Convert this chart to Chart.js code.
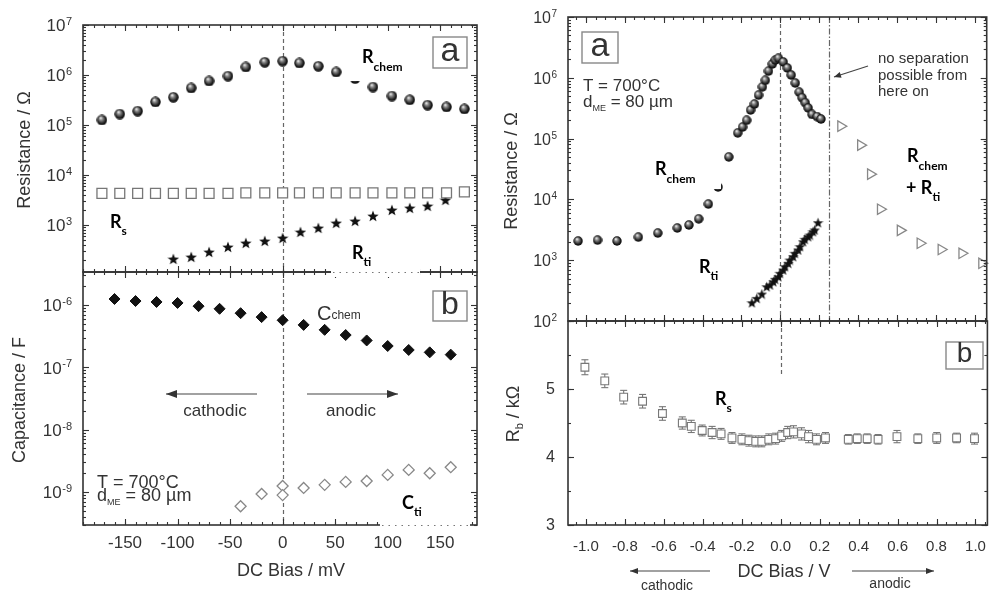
<!DOCTYPE html>
<html>
<head>
<meta charset="utf-8">
<script src="https://cdn.jsdelivr.net/npm/chart.js@4.4.1/dist/chart.umd.min.js"></script>
<style>
  html, body { margin: 0; background: #fff; }
  canvas { position: absolute; left: 0; top: 0; }
</style>
</head>
<body>
<canvas id="resMv" width="994" height="593"></canvas>
<canvas id="capMv" width="994" height="593"></canvas>
<canvas id="resV" width="994" height="593"></canvas>
<canvas id="rbV" width="994" height="593"></canvas>
<script>
// ---- left figure, DC bias in mV ----
const biasA = [-172, -155, -138, -121, -104, -87, -70, -52, -35, -17, 0, 16, 34, 51, 69, 86, 104, 121, 138, 156, 173];
const rChemA = [1.26e5, 1.66e5, 1.9e5, 2.9e5, 3.6e5, 5.5e5, 7.6e5, 9.5e5, 1.45e6, 1.8e6, 1.9e6, 1.74e6, 1.5e6, 1.15e6, 8.5e5, 5.75e5, 3.8e5, 3.2e5, 2.5e5, 2.3e5, 2.1e5];
const rSA = [4.3e3, 4.3e3, 4.3e3, 4.3e3, 4.3e3, 4.3e3, 4.3e3, 4.3e3, 4.4e3, 4.4e3, 4.4e3, 4.4e3, 4.4e3, 4.4e3, 4.4e3, 4.4e3, 4.4e3, 4.4e3, 4.4e3, 4.4e3, 4.6e3];
const biasTiA = [-104, -87, -70, -52, -35, -17, 0, 17, 34, 51, 69, 86, 104, 121, 138, 155];
const rTiA = [209, 229, 288, 363, 437, 479, 550, 724, 871, 1096, 1202, 1514, 1995, 2188, 2399, 3162];

const biasC = [-160, -140, -120, -100, -80, -60, -40, -20, 0, 20, 40, 60, 80, 100, 120, 140, 160];
const cChem = [1.25e-6, 1.16e-6, 1.12e-6, 1.08e-6, 9.6e-7, 8.7e-7, 7.4e-7, 6.4e-7, 5.7e-7, 4.8e-7, 4.0e-7, 3.3e-7, 2.7e-7, 2.2e-7, 1.9e-7, 1.74e-7, 1.6e-7];
const biasCti = [-40, -20, 0, 0, 20, 40, 60, 80, 100, 120, 140, 160];
const cTi = [5.9e-10, 9.3e-10, 1.25e-9, 8.9e-10, 1.16e-9, 1.3e-9, 1.45e-9, 1.5e-9, 1.88e-9, 2.26e-9, 2.0e-9, 2.5e-9];

// ---- right figure, DC bias in V ----
const biasB = [-1.04, -0.94, -0.84, -0.73, -0.63, -0.53, -0.47, -0.42, -0.37, -0.32, -0.265, -0.219, -0.194, -0.173, -0.153, -0.133, -0.112, -0.092, -0.077, -0.061, -0.041, -0.026, -0.010, 0.015, 0.036, 0.056, 0.077, 0.097, 0.112, 0.128, 0.143, 0.163, 0.189, 0.209];
const rChemB = [2070, 2140, 2070, 2400, 2800, 3390, 3800, 4790, 8400, 1.6e4, 5.0e4, 1.24e5, 1.55e5, 2.0e5, 2.96e5, 3.7e5, 5.2e5, 7.1e5, 9.1e5, 1.29e6, 1.69e6, 1.96e6, 2.1e6, 1.82e6, 1.45e6, 1.11e6, 8.2e5, 5.8e5, 4.7e5, 3.9e5, 3.2e5, 2.5e5, 2.3e5, 2.1e5];
const biasTiB = [-0.146, -0.121, -0.095, -0.070, -0.053, -0.036, -0.027, -0.010, -0.002, 0.015, 0.024, 0.041, 0.049, 0.066, 0.075, 0.092, 0.101, 0.117, 0.126, 0.143, 0.152, 0.168, 0.177, 0.194];
const rTiB = [200, 236, 278, 366, 391, 443, 485, 535, 609, 690, 782, 889, 1007, 1143, 1300, 1473, 1669, 2015, 2207, 2434, 2593, 2940, 3140, 4140];
const biasSum = [0.311, 0.413, 0.464, 0.515, 0.617, 0.719, 0.827, 0.934, 1.036];
const rSum = [1.6e5, 7.8e4, 2.6e4, 6.9e3, 3.1e3, 1.9e3, 1.5e3, 1.3e3, 890];

const biasRb = [-1.005, -0.903, -0.806, -0.709, -0.607, -0.505, -0.459, -0.403, -0.352, -0.306, -0.250, -0.199, -0.163, -0.128, -0.097, -0.061, -0.026, 0.005, 0.036, 0.066, 0.107, 0.143, 0.184, 0.230, 0.347, 0.393, 0.444, 0.500, 0.597, 0.704, 0.801, 0.903, 0.995];
const rb = [5.32, 5.12, 4.88, 4.82, 4.64, 4.50, 4.45, 4.39, 4.36, 4.34, 4.28, 4.26, 4.24, 4.23, 4.23, 4.26, 4.27, 4.31, 4.36, 4.37, 4.34, 4.30, 4.26, 4.28, 4.26, 4.27, 4.27, 4.26, 4.30, 4.27, 4.28, 4.28, 4.27];
const rbErr = [0.11, 0.10, 0.10, 0.10, 0.10, 0.09, 0.09, 0.08, 0.09, 0.08, 0.08, 0.08, 0.08, 0.08, 0.08, 0.08, 0.08, 0.08, 0.09, 0.09, 0.09, 0.09, 0.08, 0.08, 0.07, 0.07, 0.07, 0.07, 0.09, 0.07, 0.08, 0.07, 0.08];

// tick labels
const mvTicks = [-150, -100, -50, 0, 50, 100, 150];
const vTicks = [-1.0, -0.8, -0.6, -0.4, -0.2, 0.0, 0.2, 0.4, 0.6, 0.8, 1.0];
const resExpA = [3, 4, 5, 6, 7];
const capExp = [-9, -8, -7, -6];
const resExpB = [2, 3, 4, 5, 6, 7];
const rbTicks = [3, 4, 5];

const W = 994, H = 593;
const TXT = '#333';
const SANS = '"Liberation Sans", Arial, sans-serif';
const BOLD = 'bold 18px Lato, "Open Sans", sans-serif';
const BOLD_SUB = 'bold 12px Lato, "Open Sans", sans-serif';

const p10 = e => Math.pow(10, e);

function logMinors(lo, hi) {
  const out = [];
  for (let e = Math.floor(Math.log10(lo)); e <= Math.ceil(Math.log10(hi)); e++) {
    for (let m = 2; m <= 9; m++) {
      const v = m * p10(e);
      if (v > lo && v < hi) out.push(v);
    }
  }
  return out;
}

function linMinors(lo, hi, step) {
  const out = [];
  for (let k = Math.ceil(lo / step); k <= Math.floor(hi / step); k++) out.push(k * step);
  return out;
}

function line(ctx, x1, y1, x2, y2) {
  ctx.beginPath();
  ctx.moveTo(x1, y1);
  ctx.lineTo(x2, y2);
  ctx.stroke();
}

function arrow(ctx, x1, y1, x2, y2, len, half) {
  line(ctx, x1, y1, x2, y2);
  const a = Math.atan2(y2 - y1, x2 - x1);
  ctx.beginPath();
  ctx.moveTo(x2, y2);
  ctx.lineTo(x2 - len * Math.cos(a) + half * Math.sin(a), y2 - len * Math.sin(a) - half * Math.cos(a));
  ctx.lineTo(x2 - len * Math.cos(a) - half * Math.sin(a), y2 - len * Math.sin(a) + half * Math.cos(a));
  ctx.closePath();
  ctx.fill();
}

// text made of pieces: [text, font, dy]
function rich(ctx, x, y, parts, align) {
  let w = 0;
  parts.forEach(p => { ctx.font = p[1]; w += ctx.measureText(p[0]).width; });
  let cx = align === 'center' ? x - w / 2 : x;
  ctx.textAlign = 'left';
  ctx.textBaseline = 'alphabetic';
  parts.forEach(p => {
    ctx.font = p[1];
    ctx.fillText(p[0], cx, y + (p[2] || 0));
    cx += ctx.measureText(p[0]).width;
  });
}

function sphere(d) {
  const c = document.createElement('canvas');
  c.width = c.height = d;
  const g = c.getContext('2d');
  const r = d / 2;
  const grad = g.createRadialGradient(r * 0.75, r * 0.6, r * 0.05, r, r, r);
  grad.addColorStop(0, '#f2f2f2');
  grad.addColorStop(0.3, '#8a8a8a');
  grad.addColorStop(0.75, '#1c1c1c');
  grad.addColorStop(1, '#050505');
  g.fillStyle = grad;
  g.beginPath();
  g.arc(r, r, r - 0.3, 0, Math.PI * 2);
  g.fill();
  return c;
}

function star(d) {
  const c = document.createElement('canvas');
  c.width = c.height = d;
  const g = c.getContext('2d');
  const R = d / 2, r = R * 0.42;
  g.fillStyle = '#111';
  g.beginPath();
  for (let i = 0; i < 10; i++) {
    const a = -Math.PI / 2 + i * Math.PI / 5;
    const rr = i % 2 ? r : R;
    g.lineTo(R + rr * Math.cos(a), R + 0.5 + rr * Math.sin(a));
  }
  g.closePath();
  g.fill();
  return c;
}

const pts = (xs, ys) => xs.map((v, i) => ({ x: v, y: ys[i] }));

// axis decoration per panel, kept out of chart options so nothing gets resolved as scriptable
const axisCfg = {
  resMv: {
    xMajor: mvTicks, xMinor: linMinors(-190, 185, 10),
    yMajor: resExpA.map(p10), yMinor: logMinors(115, 1e7),
    yPow: resExpA, big: '17px ' + SANS, small: '11px ' + SANS,
    guides: [{ at: 0, dash: [4, 3] }]
  },
  capMv: {
    xMajor: mvTicks, xMinor: linMinors(-190, 185, 10),
    yMajor: capExp.map(p10), yMinor: logMinors(2.95e-10, 3.39e-6),
    yPow: capExp, big: '17px ' + SANS, small: '11px ' + SANS,
    xLabels: mvTicks, xFont: '17px ' + SANS, xGap: 18, xFixed: 0,
    guides: [{ at: 0, dash: [4, 3] }]
  },
  resV: {
    xMajor: vTicks, xMinor: linMinors(-1.09, 1.06, 0.05),
    yMajor: resExpB.map(p10), yMinor: logMinors(100, 1e7),
    yPow: resExpB, big: '16px ' + SANS, small: '10px ' + SANS,
    guides: [{ at: 0, dash: [4, 3] }, { at: 0.25, dash: [6, 2, 1.5, 2] }]
  },
  rbV: {
    xMajor: vTicks, xMinor: linMinors(-1.09, 1.06, 0.05),
    yMajor: [3, 4, 5, 6], yMinor: linMinors(3, 6, 0.5),
    yNum: rbTicks, big: '16px ' + SANS,
    xLabels: vTicks, xFont: '15px ' + SANS, xGap: 22, xFixed: 1,
    guides: [{ at: 0, dash: [4, 3], until: 5.22 }],
    errors: { xs: biasRb, ys: rb, err: rbErr }
  }
};

const axesPlugin = {
  id: 'axesDeco',
  beforeDatasetsDraw(chart) {
    const o = axisCfg[chart.canvas.id];
    const { ctx, chartArea: a, scales: { x, y } } = chart;
    ctx.save();
    ctx.strokeStyle = '#666';
    ctx.lineWidth = 1.2;
    o.guides.forEach(g => {
      const px = Math.round(x.getPixelForValue(g.at)) + 0.5;
      const y2 = g.until !== undefined ? y.getPixelForValue(g.until) : a.bottom;
      ctx.setLineDash(g.dash);
      line(ctx, px, a.top, px, y2);
    });
    ctx.setLineDash([]);
    if (o.errors) {
      const e = o.errors;
      ctx.strokeStyle = '#777';
      ctx.lineWidth = 1.1;
      e.xs.forEach((v, i) => {
        const px = x.getPixelForValue(v);
        const top = y.getPixelForValue(e.ys[i] + e.err[i]);
        const bot = y.getPixelForValue(e.ys[i] - e.err[i]);
        line(ctx, px, top, px, bot);
        line(ctx, px - 3.5, top, px + 3.5, top);
        line(ctx, px - 3.5, bot, px + 3.5, bot);
      });
    }
    ctx.restore();
  },
  afterDatasetsDraw(chart) {
    const o = axisCfg[chart.canvas.id];
    const { ctx, chartArea: a, scales: { x, y } } = chart;
    ctx.save();
    ctx.strokeStyle = '#333';
    ctx.lineWidth = 1.1;
    const xt = (list, len) => list.forEach(v => {
      const p = Math.round(x.getPixelForValue(v)) + 0.5;
      line(ctx, p, a.bottom, p, a.bottom - len);
      line(ctx, p, a.top, p, a.top + len);
    });
    const yt = (list, len) => list.forEach(v => {
      const p = Math.round(y.getPixelForValue(v)) + 0.5;
      line(ctx, a.left, p, a.left + len, p);
      line(ctx, a.right, p, a.right - len, p);
    });
    xt(o.xMinor, 3); xt(o.xMajor, 6);
    yt(o.yMinor, 3); yt(o.yMajor, 6);
    ctx.lineWidth = 1.6;
    ctx.strokeRect(a.left, a.top, a.right - a.left, a.bottom - a.top);

    ctx.fillStyle = TXT;
    if (o.xLabels) {
      ctx.font = o.xFont;
      ctx.textAlign = 'center';
      ctx.textBaseline = 'middle';
      o.xLabels.forEach(v => ctx.fillText(v.toFixed(o.xFixed), x.getPixelForValue(v), a.bottom + o.xGap));
    }
    if (o.yPow) {
      o.yPow.forEach(e => {
        const yc = y.getPixelForValue(p10(e));
        const sup = String(e);
        ctx.font = o.small;
        const sw = ctx.measureText(sup).width;
        const xr = a.left - 11;
        ctx.font = o.big;
        ctx.textAlign = 'right';
        ctx.textBaseline = 'middle';
        ctx.fillText('10', xr - sw - 0.5, yc + 1.5);
        ctx.font = o.small;
        ctx.textAlign = 'left';
        ctx.textBaseline = 'alphabetic';
        ctx.fillText(sup, xr - sw, yc);
      });
    }
    if (o.yNum) {
      ctx.font = o.big;
      ctx.textAlign = 'right';
      ctx.textBaseline = 'middle';
      o.yNum.forEach(v => ctx.fillText(String(v), a.left - 13, y.getPixelForValue(v) + 1));
    }
    ctx.restore();
  }
};

// texts, boxes and arrows that sit over every panel (drawn by the top-most canvas)
const notesPlugin = {
  id: 'notes',
  afterDraw(chart) {
    const ctx = chart.ctx;
    ctx.save();
    // white label backgrounds that hide parts of the plot, as in the figure
    ctx.fillStyle = '#fff';
    [[344, 40, 68, 41], [331, 262, 89, 15], [380, 497, 90, 34], [645, 146, 76, 43]].forEach(r => ctx.fillRect(...r));
    ctx.strokeStyle = '#777';
    ctx.lineWidth = 1.2;
    ctx.setLineDash([1.5, 5]);
    line(ctx, 333, 272.5, 420, 272.5);
    line(ctx, 382, 525.5, 470, 525.5);
    ctx.setLineDash([]);

    // panel letters
    ctx.strokeStyle = '#888';
    ctx.lineWidth = 1.4;
    ctx.fillStyle = TXT;
    ctx.textAlign = 'center';
    ctx.textBaseline = 'middle';
    [[433, 37, 34, 31, 'a', 34], [433, 291, 34, 30, 'b', 32], [582, 32, 36, 31, 'a', 34], [946, 342, 37, 27, 'b', 28]].forEach(b => {
      ctx.strokeRect(b[0], b[1], b[2], b[3]);
      ctx.font = b[5] + 'px ' + SANS;
      ctx.fillText(b[4], b[0] + b[2] / 2, b[1] + b[3] / 2 - 1);
    });

    // bold curve labels
    ctx.fillStyle = '#000';
    rich(ctx, 362, 63, [['R', BOLD], ['chem', BOLD_SUB, 8]]);
    rich(ctx, 110, 228, [['R', BOLD], ['s', BOLD_SUB, 7]]);
    rich(ctx, 352, 259, [['R', BOLD], ['ti', BOLD_SUB, 7]]);
    rich(ctx, 402, 509, [['C', BOLD], ['ti', BOLD_SUB, 7]]);
    rich(ctx, 655, 175, [['R', BOLD], ['chem', BOLD_SUB, 8]]);
    rich(ctx, 699, 273, [['R', BOLD], ['ti', BOLD_SUB, 7]]);
    rich(ctx, 907, 162, [['R', BOLD], ['chem', BOLD_SUB, 8]]);
    rich(ctx, 906, 194, [['+ R', BOLD], ['ti', BOLD_SUB, 7]]);
    rich(ctx, 715, 405, [['R', BOLD], ['s', BOLD_SUB, 7]]);

    // figure texts
    ctx.fillStyle = TXT;
    rich(ctx, 317, 320, [['C', '20px ' + SANS], ['chem', '12px ' + SANS, -1]]);
    rich(ctx, 97, 488, [['T = 700°C', '18px ' + SANS]]);
    rich(ctx, 97, 501, [['d', '18px ' + SANS], ['ME', '9px ' + SANS, 4], [' = 80 µm', '18px ' + SANS]]);
    rich(ctx, 583, 91, [['T = 700°C', '17px ' + SANS]]);
    rich(ctx, 583, 107, [['d', '17px ' + SANS], ['ME', '9px ' + SANS, 4], [' = 80 µm', '17px ' + SANS]]);
    ctx.font = '15px ' + SANS;
    ctx.textAlign = 'left';
    ctx.textBaseline = 'alphabetic';
    ctx.fillText('no separation', 878, 63);
    ctx.fillText('possible from', 878, 80);
    ctx.fillText('here on', 878, 96);

    rich(ctx, 215, 416, [['cathodic', '17px ' + SANS]], 'center');
    rich(ctx, 351, 416, [['anodic', '17px ' + SANS]], 'center');
    rich(ctx, 667, 590, [['cathodic', '14px ' + SANS]], 'center');
    rich(ctx, 890, 588, [['anodic', '14px ' + SANS]], 'center');

    ctx.strokeStyle = '#444';
    ctx.fillStyle = '#333';
    ctx.lineWidth = 1.1;
    arrow(ctx, 257, 394, 166, 394, 11, 4);
    arrow(ctx, 307, 394, 398, 394, 11, 4);
    arrow(ctx, 710, 571, 630, 571, 8, 3);
    arrow(ctx, 852, 571, 934, 571, 8, 3);
    arrow(ctx, 868, 66, 834, 77, 7, 3);

    // axis titles
    ctx.fillStyle = TXT;
    rich(ctx, 291, 576, [['DC Bias / mV', '18px ' + SANS]], 'center');
    rich(ctx, 784, 577, [['DC Bias / V', '18px ' + SANS]], 'center');
    const vert = (x, y, parts) => {
      ctx.save();
      ctx.translate(x, y);
      ctx.rotate(-Math.PI / 2);
      rich(ctx, 0, 6, parts, 'center');
      ctx.restore();
    };
    vert(24, 150, [['Resistance / Ω', '18px ' + SANS]]);
    vert(19, 400, [['Capacitance / F', '18px ' + SANS]]);
    vert(511, 171, [['Resistance / Ω', '18px ' + SANS]]);
    vert(513, 414, [['R', '18px ' + SANS], ['b', '11px ' + SANS, 4], [' / kΩ', '18px ' + SANS]]);
    ctx.restore();
  }
};

function panel(id, area, xr, yType, yr, datasets, extra) {
  return new Chart(document.getElementById(id), {
    type: 'scatter',
    data: { datasets },
    options: {
      responsive: false,
      animation: false,
      events: [],
      layout: { padding: { left: area[0], top: area[1], right: W - area[2], bottom: H - area[3] } },
      scales: {
        x: { type: 'linear', min: xr[0], max: xr[1], display: false },
        y: { type: yType, min: yr[0], max: yr[1], display: false }
      },
      plugins: { legend: { display: false }, tooltip: { enabled: false } }
    },
    plugins: [axesPlugin].concat(extra || [])
  });
}

const openPt = (data, style, r, color, extra) => Object.assign({
  data, pointStyle: style, pointRadius: r, borderColor: color, backgroundColor: '#fff',
  pointBorderWidth: 1.3, clip: false
}, extra || {});

panel('resMv', [83, 25, 477, 272], [-190, 185], 'logarithmic', [115, 1e7], [
  openPt(pts(biasA, rSA), 'rect', 7, '#777'),
  { data: pts(biasTiA, rTiA), pointStyle: star(12), clip: false },
  { data: pts(biasA, rChemA), pointStyle: sphere(11), clip: false }
]);

panel('capMv', [83, 272, 477, 525], [-190, 185], 'logarithmic', [2.95e-10, 3.39e-6], [
  openPt(pts(biasCti, cTi), 'rectRot', 5.5, '#888'),
  { data: pts(biasC, cChem), pointStyle: 'rectRot', pointRadius: 5.5, backgroundColor: '#111', borderColor: '#111', pointBorderWidth: 1, clip: false }
]);

panel('resV', [568, 17, 990, 321], [-1.0918, 1.0612], 'logarithmic', [100, 1e7], [
  openPt(pts(biasSum, rSum), 'triangle', 6, '#888', { rotation: 90 }),
  { data: pts(biasTiB, rTiB), pointStyle: star(11), clip: false },
  { data: pts(biasB, rChemB), pointStyle: sphere(10), clip: false }
]);

panel('rbV', [568, 321, 990, 525], [-1.0918, 1.0612], 'linear', [3, 6], [
  openPt(pts(biasRb, rb), 'rect', 5.5, '#777', { pointBorderWidth: 1.1 })
], [notesPlugin]);
</script>
</body>
</html>
